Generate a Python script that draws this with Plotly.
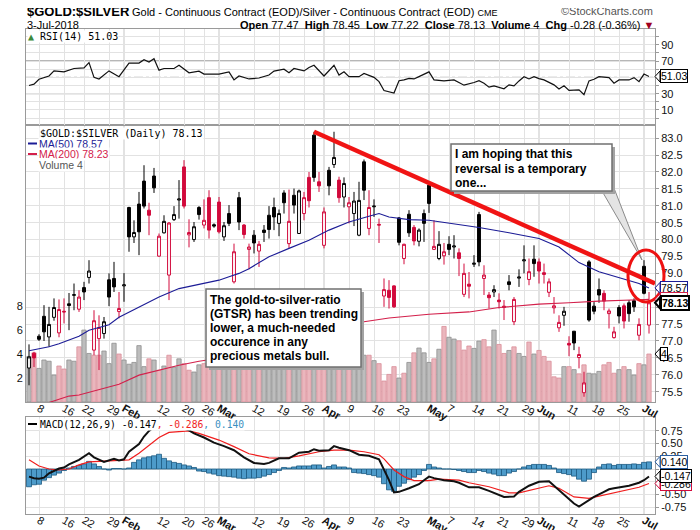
import pandas as pd
import plotly.graph_objects as go

# trading sessions, US holidays skipped
holidays = ['2018-01-15', '2018-02-19', '2018-03-30', '2018-05-28']
dates = [d.strftime('%Y-%m-%d') for d in pd.bdate_range('2018-01-04', '2018-07-03')]
dates = [d for d in dates if d not in holidays]
days = list(range(len(dates)))
day_of = {d: k for k, d in enumerate(dates)}

opens = [76.20, 76.64, 77.14, 77.73, 77.12, 77.70, 77.24, 77.88, 78.10, 78.35,
         77.94, 78.58, 78.88, 76.73, 77.07, 77.22, 78.81, 78.85, 77.87, 78.63,
         80.95, 80.08, 81.05, 81.73, 80.87, 81.88, 79.51, 80.20, 78.95, 80.59,
         81.17, 82.15, 80.14, 80.00, 80.95, 80.43, 81.24, 80.44, 81.11, 80.08,
         80.77, 78.75, 81.24, 80.43, 79.71, 80.13, 79.66, 80.28, 80.72, 80.95,
         80.48, 81.38, 79.88, 81.31, 80.18, 80.77, 81.84, 83.09, 81.71, 79.83,
         82.05, 82.22, 81.76, 81.26, 80.97, 80.77, 80.13, 82.30, 80.33, 80.97,
         80.45, 78.33, 78.50, 78.63, 80.64, 79.44, 80.75, 80.36, 79.95, 80.77,
         81.61, 79.71, 79.44, 79.52, 79.86, 79.78, 79.61, 78.38, 78.68, 79.27,
         80.74, 78.85, 78.36, 78.45, 78.21, 78.03, 78.75, 77.57, 78.86, 79.37,
         78.82, 79.42, 79.34, 79.02, 78.44, 77.98, 77.39, 77.76, 76.93, 77.29,
         76.51, 75.47, 79.34, 78.03, 78.52, 78.41, 77.81, 77.10, 77.99, 78.04,
         78.13, 78.19, 77.17, 79.21, 77.47]
highs = [76.90, 76.68, 77.20, 78.06, 78.01, 78.26, 78.23, 78.26, 78.42, 78.70,
         78.50, 78.75, 79.39, 77.91, 77.76, 77.71, 79.00, 79.34, 78.45, 79.01,
         80.97, 80.57, 81.41, 82.20, 81.09, 82.12, 80.18, 80.72, 80.52, 80.99,
         81.76, 82.35, 80.60, 80.52, 80.99, 81.19, 81.46, 80.48, 81.26, 80.52,
         81.02, 79.88, 81.41, 80.46, 79.88, 80.28, 79.96, 80.43, 80.99, 81.24,
         80.89, 81.46, 81.48, 81.51, 81.48, 81.41, 82.00, 83.19, 82.00, 80.95,
         82.15, 83.19, 81.86, 81.84, 81.26, 81.41, 81.71, 82.37, 81.46, 81.19,
         80.62, 78.85, 78.80, 78.65, 80.67, 79.88, 80.87, 80.43, 80.33, 80.89,
         81.71, 80.57, 80.25, 79.90, 80.10, 80.13, 79.74, 79.29, 79.04, 79.54,
         80.82, 79.24, 78.45, 78.65, 78.41, 78.21, 78.95, 78.30, 79.12, 79.83,
         79.44, 79.83, 79.44, 79.29, 78.85, 78.30, 77.76, 78.01, 77.14, 77.29,
         76.83, 76.09, 79.39, 78.15, 78.85, 78.50, 77.96, 77.42, 78.06, 78.11,
         78.21, 78.26, 77.67, 79.39, 78.45]
lows = [75.69, 76.23, 77.00, 77.00, 76.83, 77.60, 77.11, 77.52, 77.32, 77.91,
        77.86, 78.21, 78.70, 76.58, 76.14, 77.07, 78.03, 78.45, 77.67, 78.16,
        79.64, 79.90, 79.54, 80.92, 80.13, 81.38, 79.49, 80.18, 78.21, 80.55,
        80.62, 80.92, 79.77, 79.93, 80.59, 80.33, 80.03, 80.35, 80.18, 79.96,
        80.40, 78.70, 80.28, 80.03, 79.12, 79.59, 79.19, 79.93, 80.03, 80.28,
        80.10, 80.77, 79.74, 80.77, 80.18, 80.57, 80.95, 81.71, 81.41, 79.74,
        81.31, 82.12, 81.09, 80.95, 80.48, 80.40, 80.10, 81.17, 80.13, 80.67,
        79.90, 78.01, 77.96, 77.98, 79.83, 79.27, 80.08, 79.83, 79.80, 79.93,
        80.79, 79.69, 79.39, 79.26, 79.54, 79.44, 78.92, 78.30, 78.26, 79.19,
        79.21, 78.36, 77.96, 78.30, 77.96, 77.62, 78.50, 77.47, 78.60, 79.00,
        78.65, 78.90, 78.70, 78.70, 78.30, 77.81, 77.27, 77.45, 76.55, 76.73,
        76.19, 75.35, 77.57, 77.79, 78.13, 77.91, 77.37, 77.07, 77.52, 77.37,
        77.57, 77.86, 77.02, 78.38, 77.22]
closes = [76.53, 76.50, 77.05, 77.27, 77.49, 77.99, 77.93, 77.86, 78.05, 78.37,
          78.30, 78.45, 79.07, 77.60, 77.40, 77.57, 78.30, 78.60, 77.96, 78.66,
          80.08, 80.21, 80.23, 80.99, 80.72, 81.53, 80.10, 80.54, 80.49, 80.74,
          81.20, 80.99, 80.21, 80.38, 80.74, 80.57, 80.28, 80.40, 80.23, 80.41,
          80.48, 79.64, 80.52, 80.15, 79.78, 79.90, 79.86, 80.21, 80.30, 80.67,
          80.77, 81.09, 80.54, 81.02, 81.44, 81.24, 81.15, 81.84, 81.59, 80.82,
          81.59, 82.43, 81.24, 81.66, 81.09, 81.14, 81.16, 81.46, 80.95, 80.99,
          80.43, 78.52, 78.29, 78.01, 79.92, 79.86, 80.20, 79.96, 80.28, 80.48,
          81.07, 79.80, 79.86, 79.64, 79.71, 79.81, 79.44, 79.00, 78.62, 79.30,
          79.34, 78.95, 78.28, 78.52, 78.16, 77.99, 78.67, 78.23, 78.89, 79.40,
          79.05, 79.29, 79.07, 78.97, 78.75, 78.04, 77.55, 77.88, 76.88, 76.94,
          76.60, 75.76, 77.62, 77.88, 78.36, 78.18, 77.89, 77.27, 77.74, 77.59,
          77.81, 78.01, 77.49, 78.41, 78.13]
volume = [3.8, 4.1, 2.8, 3.5, 3.4, 2.25, 3.0, 2.75, 3.5, 3.4,
          4.6, 6.0, 4.05, 3.9, 3.9, 4.25, 3.2, 4.9, 4.0, 3.5,
          3.15, 3.3, 4.7, 2.95, 3.6, 3.5, 2.65, 3.0, 3.9, 2.9,
          3.6, 3.2, 2.65, 2.5, 3.1, 3.2, 3.6, 3.75, 3.9, 4.4,
          4.7, 2.9, 3.9, 4.2, 3.8, 4.5, 4.1, 3.9, 4.6, 4.3,
          3.7, 4.4, 4.0, 3.6, 4.2, 4.8, 3.9, 4.5, 4.1, 3.8,
          4.4, 4.0, 3.7, 4.3, 3.9, 4.1, 4.5, 3.9, 3.9, 3.45,
          3.2, 1.75, 2.3, 2.95, 2.0, 2.4, 3.3, 4.1, 4.5, 4.1,
          3.3, 3.6, 4.4, 6.3, 5.4, 5.25, 5.1, 4.33, 4.67, 4.47,
          5.08, 5.2, 4.6, 6.0, 4.8, 4.05, 4.3, 4.6, 4.05, 3.8,
          5.0, 4.0, 4.3, 3.8, 3.4, 2.1, 2.0, 2.95, 2.95, 2.7,
          2.35, 3.1, 2.4, 2.35, 2.55, 3.1, 3.3, 2.4, 2.7, 2.95,
          2.7, 2.25, 3.2, 3.1, 4.0]
hist = [-0.35, -0.31, -0.30, -0.22, -0.17, -0.12, -0.08, -0.03, 0.02, 0.05,
        0.07, 0.10, 0.15, 0.10, 0.05, 0.00, -0.02, 0.01, 0.01, 0.00,
        0.02, 0.13, 0.18, 0.22, 0.24, 0.26, 0.29, 0.21, 0.16, 0.13,
        0.11, 0.08, 0.06, 0.03, -0.04, -0.05, -0.08, -0.10, -0.13, -0.14,
        -0.15, -0.16, -0.18, -0.19, -0.18, -0.18, -0.17, -0.14, -0.11, -0.07,
        -0.03, 0.03, 0.02, 0.04, 0.06, 0.06, 0.06, 0.08, 0.08, 0.02,
        0.05, 0.08, 0.04, 0.04, 0.02, -0.07, -0.08, -0.09, -0.11, -0.13,
        -0.16, -0.29, -0.41, -0.44, -0.34, -0.28, -0.21, -0.16, -0.11, -0.03,
        0.09, 0.04, 0.02, 0.00, 0.00, -0.01, -0.03, -0.05, -0.07, -0.07,
        -0.03, -0.05, -0.08, -0.10, -0.13, -0.13, -0.08, -0.05, 0.00, 0.04,
        0.07, 0.09, 0.09, 0.09, 0.07, 0.02, -0.07, -0.09, -0.11, -0.14,
        -0.20, -0.24, -0.20, -0.07, 0.04, 0.09, 0.10, 0.07, 0.09, 0.09,
        0.09, 0.10, 0.09, 0.13, 0.140]

rsi_days = [0, 1, 2, 4, 5, 7, 9, 11, 12, 13, 14, 15, 16, 18, 20, 22, 23, 24, 25, 26,
            27, 29, 30, 32, 34, 35, 37, 38, 40, 41, 42, 44, 46, 48, 49, 51, 52, 53, 55, 56,
            57, 59, 61, 62, 63, 64, 66, 67, 69, 70, 71, 73, 74, 75, 76, 77, 78, 80, 81, 83,
            85, 86, 87, 89, 90, 91, 92, 93, 95, 96, 97, 98, 99, 100, 101, 102, 103, 105, 106, 107,
            108, 110, 111, 112, 113, 114, 116, 117, 118, 120, 121, 122, 123, 124]
rsi = [40.0, 41.6, 47.6, 51.6, 57.9, 56.7, 60.8, 61.5, 68.0, 50.0, 48.0, 52.8, 57.9, 50.8, 67.5,
       67.5, 71.6, 68.7, 72.8, 58.8, 60.8, 60.8, 64.8, 55.6, 57.6, 54.0, 54.4, 54.0, 56.7, 46.8,
       51.6, 48.0, 49.2, 52.8, 57.6, 60.0, 55.6, 60.8, 57.9, 62.0, 64.8, 51.6, 64.8, 52.8, 56.7,
       50.8, 50.8, 54.8, 50.0, 44.7, 33.9, 30.8, 45.9, 46.8, 48.8, 48.0, 50.8, 56.7, 46.8, 45.6,
       46.8, 43.6, 40.4, 43.6, 45.9, 42.8, 38.0, 39.6, 36.0, 40.8, 39.6, 45.6, 50.8, 48.0, 50.8,
       48.4, 46.8, 40.8, 35.6, 39.6, 33.9, 34.7, 28.7, 45.6, 47.6, 50.8, 49.6, 42.8, 46.8, 46.8,
       49.6, 44.7, 54.0, 51.03]

ma50_days = [0, 4, 6, 10, 12, 16, 18, 22, 26, 30, 34, 38, 40, 42, 44, 48, 52, 56, 60, 64,
             68, 70, 72, 76, 80, 84, 88, 90, 96, 102, 106, 110, 114, 118, 122, 124]
ma50 = [76.71, 76.83, 76.92, 77.14, 77.32, 77.48, 77.70, 78.01, 78.30, 78.55,
        78.68, 78.80, 78.90, 79.00, 79.14, 79.49, 79.74, 79.98, 80.28, 80.52,
        80.69, 80.77, 80.67, 80.59, 80.57, 80.49, 80.40, 80.36, 80.20, 80.03,
        79.78, 79.32, 79.05, 78.88, 78.70, 78.57]

ma200_days = [4, 8, 10, 14, 18, 22, 26, 30, 34, 38, 42, 50, 58, 67, 72, 80, 86, 88, 94, 102,
              108, 114, 122, 124]
ma200 = [75.18, 75.37, 75.40, 75.57, 75.72, 75.99, 76.14, 76.28, 76.40, 76.48,
         76.58, 76.95, 77.30, 77.57, 77.68, 77.79, 77.83, 77.86, 77.99, 78.09,
         78.13, 78.18, 78.22, 78.23]

macd_days = [0, 1, 2, 3, 4, 6, 7, 8, 10, 12, 13, 15, 17, 18, 19, 20, 22, 23, 24, 26,
             28, 30, 32, 33, 35, 37, 39, 41, 43, 45, 47, 48, 50, 52, 54, 56, 57, 58, 60, 61,
             62, 64, 66, 68, 70, 71, 72, 73, 74, 76, 78, 79, 80, 81, 83, 85, 86, 88, 90, 92,
             95, 97, 98, 100, 102, 104, 105, 107, 108, 109, 110, 111, 113, 115, 116, 117, 120, 122, 123, 124]
macd = [-0.15, -0.18, -0.19, -0.17, -0.085, 0.01, 0.03, 0.09, 0.18, 0.31, 0.23, 0.14, 0.20, 0.17,
        0.19, 0.34, 0.49, 0.64, 0.75, 0.90, 0.88, 0.83, 0.76, 0.70, 0.62, 0.52, 0.45, 0.37, 0.23,
        0.12, 0.10, 0.12, 0.21, 0.21, 0.32, 0.34, 0.39, 0.36, 0.37, 0.45, 0.42, 0.37, 0.28, 0.26,
        0.19, 0.0, -0.22, -0.46, -0.45, -0.38, -0.30, -0.22, -0.15, -0.18, -0.22, -0.24, -0.27,
        -0.36, -0.36, -0.43, -0.55, -0.54, -0.45, -0.33, -0.25, -0.24, -0.33, -0.50, -0.58, -0.68,
        -0.74, -0.68, -0.55, -0.45, -0.40, -0.38, -0.33, -0.27, -0.22, -0.147]

signal_days = [0, 2, 4, 6, 8, 10, 12, 15, 18, 20, 22, 24, 26, 28, 32, 34, 38, 41, 44, 48,
               51, 54, 58, 61, 64, 67, 70, 71, 72, 73, 75, 77, 80, 82, 86, 88, 92, 96, 98, 102,
               104, 106, 109, 112, 115, 119, 122, 124]
signal = [0.18, 0.06, 0.0, -0.02, 0.0, 0.08, 0.14, 0.15, 0.16, 0.18, 0.31, 0.47, 0.62, 0.72,
          0.75, 0.70, 0.57, 0.44, 0.30, 0.22, 0.21, 0.26, 0.34, 0.37, 0.37, 0.34, 0.28, 0.20,
          0.10, -0.02, -0.15, -0.23, -0.23, -0.20, -0.22, -0.27, -0.35, -0.47, -0.47, -0.38,
          -0.33, -0.38, -0.55, -0.58, -0.51, -0.43, -0.36, -0.286]

# hand-drawn trend line: from the late-March high to the right edge
trend_days = [57, 125.2]
trend_vals = [83.19, 78.70]

tick_dates = ['2018-01-08', '2018-01-16', '2018-01-22', '2018-01-29', '2018-02-01', '2018-02-12',
              '2018-02-20', '2018-02-26', '2018-03-01', '2018-03-12', '2018-03-19', '2018-03-26',
              '2018-04-02', '2018-04-09', '2018-04-16', '2018-04-23', '2018-05-01', '2018-05-07',
              '2018-05-14', '2018-05-21', '2018-05-29', '2018-06-01', '2018-06-11', '2018-06-18',
              '2018-06-25', '2018-07-02']
tick_text = ['8', '16', '22', '29', '<b>Feb</b>', '12', '20', '26', '<b>Mar</b>', '12', '19', '26',
             '<b>Apr</b>', '9', '16', '23', '<b>May</b>', '7', '14', '21', '29', '<b>Jun</b>',
             '11', '18', '25', '<b>Jul</b>']
month_dates = ['2018-02-01', '2018-03-01', '2018-04-02', '2018-05-01', '2018-06-01', '2018-07-02']

RED = '#d20a3c'
NAVY = '#1c1c96'
CRIMSON = '#d3204b'
GRID = '#e2e2e2'
MONTH = '#c4c4c4'
FRAME = '#9a9a9a'
SANS = 'Liberation Sans, Arial, sans-serif'
MONO = 'DejaVu Sans Mono, monospace'

W, H = 700, 530
OFF = 8                     # the page body adds an 8px margin; pull the figure back by that much
L, T = 26, 29               # plot area corner as seen in the window
PW, PH = 629, 485
XR = [-0.6, 125.2]
RSI_R = [-8.4, 109.2]
VOL_R = [0, 23.1]
PX_R = [75.195, 83.39]
MACD_R = [-0.886, 1.024]


def fx(p):
    return (p - L) / PW


def fy(p):
    return (T + PH - p) / PH


fig = go.Figure()

# RSI panel
fig.add_trace(go.Scatter(x=rsi_days, y=rsi, mode='lines', line=dict(color='#111', width=1.2),
                         xaxis='x3', yaxis='y', hoverinfo='skip'))

# volume behind the price
up = [True] + [closes[k] >= closes[k - 1] for k in days[1:]]
fig.add_trace(go.Bar(x=days, y=volume, width=0.86, xaxis='x2', yaxis='y2', hoverinfo='skip',
                     marker=dict(color=['#bdbdbd' if u else '#eab6bd' for u in up],
                                 line=dict(color=['#8e8e8e' if u else '#d98e99' for u in up], width=0.8))))

# candles: black = up vs previous close, red = down; hollow = close above open
for flag, col in [(True, '#000000'), (False, RED)]:
    ks = [k for k in days if up[k] == flag]
    fig.add_trace(go.Candlestick(
        x=ks, open=[opens[k] for k in ks], high=[highs[k] for k in ks],
        low=[lows[k] for k in ks], close=[closes[k] for k in ks],
        xaxis='x2', yaxis='y5', whiskerwidth=0, hoverinfo='skip',
        increasing=dict(line=dict(color=col, width=1), fillcolor='white'),
        decreasing=dict(line=dict(color=col, width=1), fillcolor=col)))

fig.add_trace(go.Scatter(x=ma50_days, y=ma50, mode='lines', line=dict(color=NAVY, width=1.1),
                         xaxis='x2', yaxis='y5', hoverinfo='skip'))
fig.add_trace(go.Scatter(x=ma200_days, y=ma200, mode='lines', line=dict(color=CRIMSON, width=1.1),
                         xaxis='x2', yaxis='y5', hoverinfo='skip'))

# MACD panel
fig.add_trace(go.Bar(x=days, y=hist, width=1, xaxis='x', yaxis='y3', hoverinfo='skip',
                     marker=dict(color='#4d9bca', line=dict(color='#1d5a82', width=0.8))))
fig.add_trace(go.Scatter(x=signal_days, y=signal, mode='lines', line=dict(color='#f01e1e', width=1.2),
                         xaxis='x', yaxis='y3', hoverinfo='skip'))
fig.add_trace(go.Scatter(x=macd_days, y=macd, mode='lines', line=dict(color='#111', width=2),
                         xaxis='x', yaxis='y3', hoverinfo='skip'))

tickvals = [day_of[d] for d in tick_dates]
xbase = dict(range=XR, tickmode='array', tickvals=tickvals, ticktext=tick_text, showgrid=True,
             gridcolor=GRID, zeroline=False, showline=True, linecolor=FRAME, mirror=True, ticks='',
             ticklabelstandoff=-5,
             tickfont=dict(family=SANS, size=11, color='#111'), rangeslider=dict(visible=False),
             fixedrange=True, automargin=False)
ybase = dict(showgrid=True, gridcolor=GRID, zeroline=False, showline=True, linecolor=FRAME,
             mirror=True, ticks='outside', ticklen=3, tickcolor=FRAME, automargin=False,
             tickfont=dict(family=SANS, size=11, color='#111'), fixedrange=True)

rsi_ticks = list(range(0, 101, 10))
price_ticks = [75.5 + 0.5 * k for k in range(16)]
macd_ticks = [-0.75, -0.5, -0.25, 0.0, 0.25, 0.5, 0.75]

fig.update_layout(
    template='none',
    width=W, height=H, autosize=False,
    margin=dict(l=L - OFF, r=W - (L - OFF) - PW, t=T - OFF, b=H - (T - OFF) - PH, pad=0),
    paper_bgcolor='white', plot_bgcolor='white',
    showlegend=False, hovermode=False, boxgap=0.18,
    xaxis=dict(xbase, anchor='y3'),
    xaxis2=dict(xbase, anchor='y2'),
    xaxis3=dict(xbase, anchor='y', showticklabels=False),
    yaxis=dict(ybase, domain=[fy(125), 1], range=RSI_R, side='right', anchor='x3',
               tickvals=rsi_ticks,
               ticktext=[str(v) if v in (10, 30, 70, 90) else '' for v in rsi_ticks]),
    yaxis2=dict(ybase, domain=[fy(402), fy(125)], range=VOL_R, side='left', anchor='x2',
                tickvals=[2, 4, 6, 8], showgrid=False, ticks=''),
    yaxis5=dict(ybase, overlaying='y2', anchor='x2', side='right', range=PX_R,
                tickvals=price_ticks, ticktext=[f'{v:.1f}' for v in price_ticks], showline=False),
    yaxis3=dict(ybase, domain=[0, fy(417)], range=MACD_R, side='right', anchor='x',
                tickvals=macd_ticks, ticktext=[f'{v:.2f}' for v in macd_ticks]),
)

# month separators in every panel
for d in month_dates:
    k = day_of[d]
    for xr, yr, rng in [('x3', 'y', RSI_R), ('x2', 'y2', VOL_R), ('x', 'y3', MACD_R)]:
        fig.add_shape(type='line', xref=xr, yref=yr, x0=k, x1=k, y0=rng[0], y1=rng[1],
                      line=dict(color=MONTH, width=1), layer='below')

# RSI guide lines
for lvl, dash, col in [(70, 'solid', '#6e6e6e'), (30, 'solid', '#6e6e6e'), (50, 'dashdot', '#8a8a8a')]:
    fig.add_shape(type='line', xref='x3', yref='y', x0=XR[0], x1=XR[1], y0=lvl, y1=lvl,
                  line=dict(color=col, width=1, dash=dash), layer='below')

# trend line
fig.add_shape(type='line', xref='x2', yref='y5', x0=trend_days[0], y0=trend_vals[0],
              x1=trend_days[1], y1=trend_vals[1], line=dict(color='#f01414', width=4.5), layer='above')


def note_box(x0, y0, x1, y1):
    fig.add_shape(type='rect', xref='paper', yref='paper', x0=fx(x0 + 3), x1=fx(x1 + 3),
                  y0=fy(y0 + 3), y1=fy(y1 + 3), fillcolor='#a3a3a3', line=dict(width=0), layer='above')
    fig.add_shape(type='rect', xref='paper', yref='paper', x0=fx(x0), x1=fx(x1), y0=fy(y0), y1=fy(y1),
                  fillcolor='white', line=dict(color='#707070', width=1.5), layer='above')


def note_lines(lines, x, y0, step):
    for k, line in enumerate(lines):
        fig.add_annotation(xref='paper', yref='paper', x=fx(x), y=fy(y0 + step * k), xanchor='left',
                           yanchor='middle', text=f'<b>{line}</b>', showarrow=False,
                           font=dict(family=SANS, size=12, color='#000'))


note_box(206, 289, 361, 367)
note_lines(['The gold-to-silver-ratio', '(GTSR) has been trending', 'lower, a much-needed',
            'occurence in any', 'precious metals bull.'], 208, 300, 14)

# callout wedge to the 2-Jul candle
fig.add_shape(type='path', xref='paper', yref='paper',
              path=f'M {fx(602)},{fy(191)} L {fx(642)},{fy(260)} L {fx(612)},{fy(183)} Z',
              fillcolor='#e4e4e4', line=dict(color='#8a8a8a', width=1), layer='above')
note_box(451, 144, 612, 191)
note_lines(['I am hoping that this', 'reversal is a temporary', 'one...'], 453, 154, 14.5)

# red circle around the last candles
fig.add_shape(type='circle', xref='paper', yref='paper', x0=fx(628), x1=fx(664), y0=fy(302), y1=fy(250),
              line=dict(color='#ee1111', width=3), layer='above')


def tag(yref, val, text, color, lw=1, bold=False):
    fig.add_shape(type='path', xref='paper', yref=yref, xsizemode='pixel', ysizemode='pixel',
                  xanchor=1, yanchor=val, path='M 0,0 L 5,5.5 L 5,-5.5 Z',
                  fillcolor='white', line=dict(color=color, width=lw), layer='above')
    fig.add_annotation(xref='paper', yref=yref, x=1, y=val, xanchor='left', yanchor='middle', xshift=5,
                       text=f'<b>{text}</b>' if bold else text, showarrow=False,
                       bordercolor=color, borderwidth=lw, borderpad=0, bgcolor='white',
                       font=dict(family=SANS, size=10.5, color='#000'))


tag('y', rsi[-1], f'{rsi[-1]:.2f}', '#000')
tag('y5', ma50[-1], f'{ma50[-1]:.2f}', NAVY)
tag('y5', ma200[-1], f'{ma200[-1]:.2f}', CRIMSON)
tag('y5', closes[-1], f'{closes[-1]:.2f}', '#000', lw=2, bold=True)
tag('y2', volume[-1], f'{volume[-1]:.0f}', '#000')
tag('y3', hist[-1], f'{hist[-1]:.3f}', '#2a5fa0')
tag('y3', signal[-1], f'{signal[-1]:.3f}', RED)
tag('y3', macd[-1], f'{macd[-1]:.3f}', '#000')

# header
chg = closes[-1] - closes[-2]
pct = chg / closes[-2] * 100
fig.add_annotation(xref='paper', yref='paper', x=fx(25), y=fy(11.5), xanchor='left', yanchor='middle',
                   text='<b>$GOLD:$SILVER</b>', showarrow=False, font=dict(family=SANS, size=13, color='#000'))
fig.add_annotation(xref='paper', yref='paper', x=fx(130), y=fy(12), xanchor='left', yanchor='middle',
                   text='Gold - Continuous Contract (EOD)/Silver - Continuous Contract (EOD) '
                        '<span style="font-size:9px">CME</span>',
                   showarrow=False, font=dict(family=SANS, size=11, color='#000'))
fig.add_annotation(xref='paper', yref='paper', x=fx(25), y=fy(24.5), xanchor='left', yanchor='middle',
                   text='3-Jul-2018', showarrow=False, font=dict(family=SANS, size=11, color='#000'))
fig.add_annotation(xref='paper', yref='paper', x=fx(656), y=fy(24.5), xanchor='right', yanchor='middle',
                   text=(f'<b>Open</b> {opens[-1]:.2f}  <b>High</b> {highs[-1]:.2f}  <b>Low</b> {lows[-1]:.2f}  '
                         f'<b>Close</b> {closes[-1]:.2f}  <b>Volume</b> {volume[-1]:.0f}  '
                         f'<b>Chg</b> {chg:.2f} ({pct:.2f}%) <span style="color:#a0001e">▼</span>'),
                   showarrow=False, font=dict(family=SANS, size=11, color='#000'))
fig.add_annotation(xref='paper', yref='paper', x=fx(655), y=fy(11), xanchor='right', yanchor='middle',
                   text='©StockCharts.com', showarrow=False, font=dict(family=SANS, size=11, color='#555'))

# panel legends
fig.add_annotation(xref='paper', yref='paper', x=fx(27), y=fy(36.5), xanchor='left', yanchor='middle',
                   text=f'<span style="color:#3c8a3c">▲</span> RSI(14) {rsi[-1]:.2f}', showarrow=False,
                   bgcolor='white', borderpad=0, font=dict(family=MONO, size=10, color='#000'))
fig.add_annotation(xref='paper', yref='paper', x=fx(39), y=fy(133), xanchor='left', yanchor='middle',
                   text=f'$GOLD:$SILVER (Daily) {closes[-1]:.2f}', showarrow=False,
                   bgcolor='white', borderpad=0, font=dict(family=MONO, size=10, color='#000'))
for yy, txt, col in [(143.5, f'MA(50) {ma50[-1]:.2f}', NAVY), (154, f'MA(200) {ma200[-1]:.2f}', CRIMSON),
                     (164.5, f'Volume {volume[-1]:.0f}', '#555')]:
    if col != '#555':
        fig.add_shape(type='line', xref='paper', yref='paper', x0=fx(28), x1=fx(37), y0=fy(yy), y1=fy(yy),
                      line=dict(color=col, width=2), layer='above')
    fig.add_annotation(xref='paper', yref='paper', x=fx(38), y=fy(yy), xanchor='left', yanchor='middle',
                       text=txt, showarrow=False, bgcolor='white', borderpad=0,
                       font=dict(family=SANS, size=10.5, color=col))

fig.add_shape(type='line', xref='paper', yref='paper', x0=fx(28), x1=fx(37), y0=fy(424), y1=fy(424),
              line=dict(color='#000', width=2), layer='above')
fig.add_annotation(xref='paper', yref='paper', x=fx(39), y=fy(424), xanchor='left', yanchor='middle',
                   text=(f'MACD(12,26,9) {macd[-1]:.3f}<span style="color:#f01e1e">, {signal[-1]:.3f}</span>'
                         f'<span style="color:#3a8fc0">, {hist[-1]:.3f}</span>'),
                   showarrow=False, bgcolor='white', borderpad=0, font=dict(family=MONO, size=9.7, color='#000'))

fig.write_html("out.html", config={'displayModeBar': False})
